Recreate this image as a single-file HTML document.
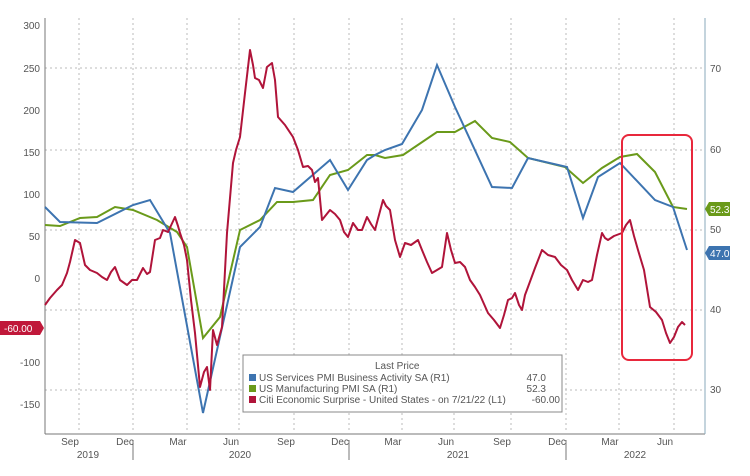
<!DOCTYPE html>
<html><head><style>body{margin:0;background:#fff}svg{display:block}text{font-family:"Liberation Sans",sans-serif;fill:#555;font-size:10px}</style></head><body>
<svg width="750" height="476" viewBox="0 0 750 476">
<g stroke="#bbb" stroke-dasharray="2,3" stroke-width="1">
<line x1="45" y1="68" x2="705" y2="68"/><line x1="45" y1="150" x2="705" y2="150"/><line x1="45" y1="230" x2="705" y2="230"/><line x1="45" y1="310" x2="705" y2="310"/><line x1="45" y1="390" x2="705" y2="390"/>
<line x1="79" y1="18" x2="79" y2="433"/><line x1="133" y1="18" x2="133" y2="433"/><line x1="187" y1="18" x2="187" y2="433"/><line x1="239" y1="18" x2="239" y2="433"/><line x1="294" y1="18" x2="294" y2="433"/><line x1="349" y1="18" x2="349" y2="433"/><line x1="402" y1="18" x2="402" y2="433"/><line x1="454" y1="18" x2="454" y2="433"/><line x1="511" y1="18" x2="511" y2="433"/><line x1="566" y1="18" x2="566" y2="433"/><line x1="619" y1="18" x2="619" y2="433"/><line x1="674" y1="18" x2="674" y2="433"/>
</g>
<g stroke="#777" stroke-width="1" fill="none">
<line x1="45" y1="18" x2="45" y2="434"/><line x1="45" y1="434" x2="705" y2="434"/><line x1="705" y1="18" x2="705" y2="434" stroke="#8ab"/>
<line x1="133" y1="440" x2="133" y2="460"/><line x1="349" y1="440" x2="349" y2="460"/><line x1="566" y1="440" x2="566" y2="460"/>
</g>
<g text-anchor="end">
<text x="40" y="29">300</text><text x="40" y="72">250</text><text x="40" y="114">200</text><text x="40" y="156">150</text><text x="40" y="198">100</text><text x="40" y="240">50</text><text x="40" y="282">0</text><text x="40" y="366">-100</text><text x="40" y="408">-150</text>
</g>
<g><text x="710" y="72">70</text><text x="710" y="153">60</text><text x="710" y="233">50</text><text x="710" y="313">40</text><text x="710" y="393">30</text></g>
<g text-anchor="middle">
<text x="70" y="445">Sep</text><text x="125" y="445">Dec</text><text x="178" y="445">Mar</text><text x="231" y="445">Jun</text><text x="286" y="445">Sep</text><text x="340" y="445">Dec</text><text x="393" y="445">Mar</text><text x="446" y="445">Jun</text><text x="502" y="445">Sep</text><text x="557" y="445">Dec</text><text x="610" y="445">Mar</text><text x="665" y="445">Jun</text>
<text x="88" y="458">2019</text><text x="240" y="458">2020</text><text x="458" y="458">2021</text><text x="635" y="458">2022</text>
</g>
<polyline fill="none" stroke="#6a9a1a" stroke-width="2" points="45,225 60,226 80,218 97,217 115,207 133,210 157,220 177,232 187,247 203,338 220,317 240,230 260,220 277,202 293,202 313,200 330,175 348,170 367,155 375,155 385,158 403,155 437,132 455,132 475,121 492,138 510,142 528,158 565,167 583,183 602,168 620,157 637,154 655,172 673,207 687,209"/>
<polyline fill="none" stroke="#3d74b0" stroke-width="2" points="45,207 60,222 97,223 133,205 150,200 170,233 203,413 240,247 260,227 275,188 293,192 330,160 348,190 367,160 375,155 385,150 402,144 422,110 437,65 455,107 492,187 512,188 528,158 567,167 583,218 598,177 620,163 655,200 673,207 687,250"/>
<polyline fill="none" stroke="#b0143a" stroke-width="2" stroke-linejoin="round" points="45,305 50,298 57,290 62,285 67,273 70,262 75,240 80,243 85,265 90,270 97,273 102,277 107,280 111,272 115,267 120,280 127,285 132,280 137,280 143,268 147,274 150,272 155,240 160,238 163,230 168,232 175,217 178,226 180,233 184,245 187,260 191,300 195,333 200,387 204,372 207,367 210,390 213,330 217,345 222,327 227,233 233,163 236,150 240,137 245,93 250,50 253,65 255,78 259,80 263,88 267,67 272,63 275,80 278,117 285,125 293,137 298,150 303,167 308,166 312,170 315,182 318,178 322,220 326,215 330,210 335,214 340,220 344,232 348,237 353,223 358,230 362,230 367,217 371,224 375,230 379,215 383,200 386,206 390,210 395,240 400,257 405,243 411,245 418,240 422,250 427,262 432,273 437,270 442,267 447,233 451,250 455,263 460,262 465,267 470,280 475,287 480,295 488,313 494,320 500,328 504,315 508,300 512,298 515,293 519,305 522,310 525,295 528,287 535,268 542,250 548,255 555,257 561,265 567,270 572,280 578,290 583,280 588,282 592,280 597,255 602,233 605,238 608,240 614,236 622,233 626,225 630,220 634,236 638,250 644,270 650,307 656,312 662,320 666,333 670,343 674,337 678,327 682,322 685,325"/>
<rect x="622" y="135" width="70" height="225" rx="7" fill="none" stroke="#e8283c" stroke-width="2"/>
<rect x="243" y="355" width="319" height="57" fill="#fff" stroke="#888"/>
<text x="375" y="369">Last Price</text>
<rect x="249" y="374" width="7" height="7" fill="#3d74b0"/><rect x="249" y="385" width="7" height="7" fill="#6a9a1a"/><rect x="249" y="396" width="7" height="7" fill="#b0143a"/>
<text x="259" y="381">US Services PMI Business Activity SA  (R1)</text>
<text x="259" y="392">US Manufacturing PMI SA  (R1)</text>
<text x="259" y="403">Citi Economic Surprise - United States -  on 7/21/22  (L1)</text>
<g text-anchor="end"><text x="546" y="381">47.0</text><text x="546" y="392">52.3</text><text x="560" y="403">-60.00</text></g>
<path d="M0,321 H40 L44,328 L40,335 H0 Z" fill="#c0183a"/>
<text x="4" y="332" style="fill:#fff">-60.00</text>
<path d="M705,209 L709,202 H730 V216 H709 Z" fill="#6a9a1a"/>
<text x="710" y="213" style="fill:#fff">52.3</text>
<path d="M705,253 L709,246 H730 V260 H709 Z" fill="#3d74b0"/>
<text x="710" y="257" style="fill:#fff">47.0</text>
</svg>
</body></html>
